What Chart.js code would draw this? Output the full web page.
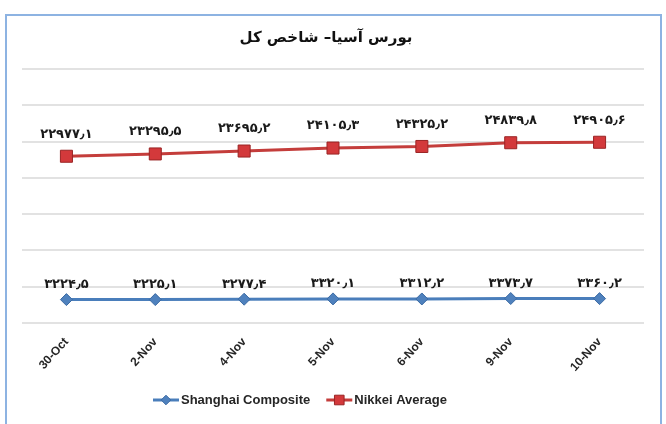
<!DOCTYPE html>
<html>
<head>
<meta charset="utf-8">
<script src="https://cdn.jsdelivr.net/npm/chart.js@4.4.0/dist/chart.umd.min.js"></script>
<style>
    html, body { margin: 0; padding: 0; background: #fff; }
</style>
</head>
<body>
<canvas id="chart" width="666" height="424"></canvas>
<script>
// Dados
const categorias = ['30-Oct', '2-Nov', '4-Nov', '5-Nov', '6-Nov', '9-Nov', '10-Nov'];
const shanghai = [3224.5, 3225.1, 3277.4, 3320.1, 3312.2, 3373.7, 3360.2];
const nikkei = [22977.1, 23295.5, 23695.2, 24105.3, 24325.2, 24839.8, 24905.6];
const nomesSeries = ['Shanghai Composite', 'Nikkei Average'];
const eixoY = { min: 0, max: 35000, passo: 5000 };

// Converte número para dígitos persas
function paraPersa(v) {
    return v.toFixed(1).replace(/\d/g, d => '۰۱۲۳۴۵۶۷۸۹'[d]).replace('.', '٫');
}

// Moldura azul em volta do gráfico
const moldura = {
    id: 'moldura',
    beforeDraw(chart) {
        const ctx = chart.ctx;
        ctx.save();
        ctx.strokeStyle = '#8db3e2';
        ctx.lineWidth = 2;
        ctx.strokeRect(6, 15, 655, 420);
        ctx.restore();
    }
};

// Rótulos de valores acima dos pontos
const rotulos = {
    id: 'rotulos',
    afterDatasetsDraw(chart) {
        const ctx = chart.ctx;
        ctx.save();
        ctx.font = 'bold 13px "DejaVu Sans"';
        ctx.fillStyle = '#1a1a1a';
        ctx.textAlign = 'center';
        ctx.textBaseline = 'middle';
        chart.data.datasets.forEach((ds, i) => {
            const meta = chart.getDatasetMeta(i);
            meta.data.forEach((pt, j) => {
                ctx.fillText(paraPersa(ds.data[j]), pt.x, pt.y - ds.deslocRotulo);
            });
        });
        ctx.restore();
    }
};

// Legenda desenhada à mão (linha + marcador, como no Excel)
const legenda = {
    id: 'legenda',
    afterDraw(chart) {
        const ctx = chart.ctx;
        ctx.save();
        ctx.font = 'bold 13px "Liberation Sans"';
        ctx.textBaseline = 'middle';
        const larguraLinha = 26, gap = 2, entreItens = 16;
        const itens = chart.data.datasets.map(ds => ({ ds, w: larguraLinha + gap + ctx.measureText(ds.label).width }));
        const total = itens.reduce((s, it) => s + it.w, 0) + entreItens * (itens.length - 1);
        let x = 300 - total / 2;
        const y = 400;
        itens.forEach(({ ds, w }) => {
            // linha
            ctx.strokeStyle = ds.borderColor;
            ctx.lineWidth = 3;
            ctx.beginPath();
            ctx.moveTo(x, y);
            ctx.lineTo(x + larguraLinha, y);
            ctx.stroke();
            // marcador
            ctx.fillStyle = ds.pointBackgroundColor;
            ctx.strokeStyle = ds.pointBorderColor;
            ctx.lineWidth = 1;
            Chart.helpers.drawPoint(ctx, {
                pointStyle: ds.pointStyle,
                radius: ds.pointRadius * 0.8,
                borderWidth: 1,
                rotation: 0
            }, x + larguraLinha / 2, y);
            // texto
            ctx.fillStyle = '#262626';
            ctx.textAlign = 'left';
            ctx.fillText(ds.label, x + larguraLinha + gap, y);
            x += w + entreItens;
        });
        ctx.restore();
    }
};

const ctx = document.getElementById('chart').getContext('2d');
new Chart(ctx, {
    type: 'line',
    data: {
        labels: categorias,
        datasets: [
            {
                label: nomesSeries[0],
                data: shanghai,
                borderColor: '#4a7ebb',
                borderWidth: 3,
                pointStyle: 'rectRot',
                pointRadius: 6,
                pointBackgroundColor: '#4f81bd',
                pointBorderColor: '#3b6aa3',
                pointBorderWidth: 1,
                deslocRotulo: 15
            },
            {
                label: nomesSeries[1],
                data: nikkei,
                borderColor: '#c43d3b',
                borderWidth: 3,
                pointStyle: 'rect',
                pointRadius: 8.5,
                pointBackgroundColor: '#d3393b',
                pointBorderColor: '#9a2424',
                pointBorderWidth: 1,
                deslocRotulo: 22
            }
        ]
    },
    options: {
        responsive: false,
        animation: false,
        layout: { padding: { left: 0, right: 14, top: 0, bottom: 0 } },
        plugins: {
            legend: { display: false },
            tooltip: { enabled: false },
            title: {
                display: true,
                text: 'بورس آسیا– شاخص کل',
                color: '#111',
                font: { family: '"DejaVu Sans"', size: 15, weight: 'bold' },
                padding: { top: 29, bottom: 22 }
            }
        },
        scales: {
            x: {
                offset: true,
                grid: { display: false, drawTicks: false },
                border: { display: false },
                ticks: {
                    color: '#262626',
                    font: { family: '"Liberation Sans"', size: 12, weight: 'bold' },
                    minRotation: 48,
                    maxRotation: 48,
                    padding: 12
                },
                afterFit(scale) { scale.height = 101; }
            },
            y: {
                min: eixoY.min,
                max: eixoY.max,
                ticks: { display: false, stepSize: eixoY.passo },
                grid: { color: '#e2e2e2', lineWidth: 2, drawTicks: false },
                border: { display: false },
                afterFit(scale) { scale.width = 22; }
            },
            y2: {
                position: 'right',
                display: true,
                ticks: { display: false },
                grid: { display: false, drawTicks: false },
                border: { display: false },
                afterFit(scale) { scale.width = 8; }
            }
        }
    },
    plugins: [moldura, rotulos, legenda]
});
</script>
</body>
</html>
